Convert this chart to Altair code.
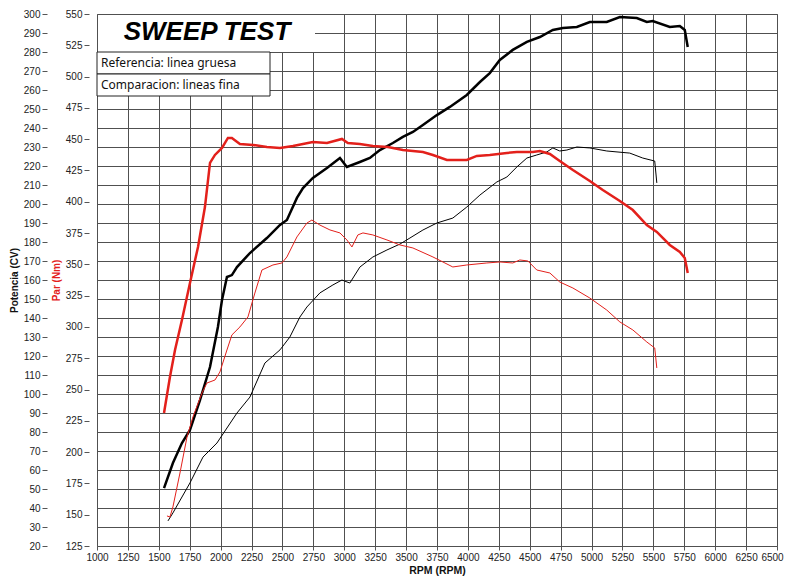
import altair as alt
import pandas as pd

# ---- data ----
rpm_ticks = list(range(1000, 6501, 250))
cv_ticks = list(range(20, 301, 10))
nm_ticks = list(range(125, 551, 25))

pow_ref_rpm = [1542, 1614, 1687, 1752, 1833, 1914, 1978, 2011, 2051, 2091,
               2132, 2237, 2374, 2480, 2536, 2617, 2666, 2746, 2860, 2965,
               3021, 3126, 3207, 3288, 3393, 3474, 3555, 3636, 3749, 3854,
               3991, 4097, 4177, 4258, 4363, 4477, 4582, 4687, 4768, 4881,
               4986, 5123, 5229, 5366, 5447, 5495, 5633, 5714, 5754, 5778]
pow_ref_cv = [50.5, 63.7, 74.2, 81.1, 96.8, 114.2, 135.3, 149.5, 161.6, 162.6,
              166.8, 174.2, 182.1, 189, 191.6, 203.2, 208.4, 213.7, 219, 224.2,
              219.5, 222.1, 224.2, 228.4, 232.1, 235.3, 237.9, 241.6, 246.8, 251.1,
              257.4, 264.2, 268.9, 275.8, 281.1, 285.3, 287.9, 291.6, 292.6, 293.2,
              295.8, 295.8, 298.4, 297.9, 295.8, 296.3, 293.2, 293.7, 291.6, 282.6]

tq_ref_rpm = [1542, 1590, 1631, 1687, 1752, 1817, 1873, 1914, 1954, 2011,
              2059, 2091, 2156, 2261, 2374, 2480, 2585, 2746, 2860, 2981,
              3029, 3126, 3231, 3353, 3474, 3636, 3717, 3830, 3991, 4072,
              4177, 4315, 4396, 4525, 4582, 4663, 4743, 4849, 4986, 5091,
              5229, 5334, 5447, 5528, 5633, 5714, 5754, 5778]
tq_ref_nm = [231.3, 260, 281.6, 305.6, 335.1, 363.9, 395.8, 431, 437.4, 443,
             451, 451, 446.2, 445.4, 443.8, 443, 444.6, 447.8, 447, 450.2,
             447, 446.2, 444.6, 443.8, 441.4, 439.8, 437.4, 433.4, 433.4, 436.6,
             437.4, 439, 439.8, 439.8, 440.6, 438.2, 432.6, 425.4, 416.6, 409.4,
             400.6, 393.4, 381.4, 375.9, 365.5, 359.9, 355.1, 343.1]

pow_cmp_rpm = [1574, 1614, 1752, 1857, 1970, 2051, 2132, 2237, 2358, 2480,
               2560, 2641, 2698, 2803, 2908, 2981, 3045, 3126, 3231, 3345,
               3450, 3531, 3636, 3749, 3878, 3991, 4097, 4234, 4315, 4396,
               4477, 4557, 4638, 4687, 4743, 4800, 4881, 4986, 5123, 5309,
               5414, 5511, 5528]
pow_cmp_cv = [33.2, 37.4, 53.2, 66.8, 74.2, 82.1, 90, 98.4, 116.3, 123.2,
              130, 140.5, 145.8, 153.2, 157.4, 160, 158.4, 166.8, 172.1, 175.8,
              178.9, 182.1, 186.3, 190, 192.6, 198.4, 204.7, 211.6, 214.2, 219.5,
              224.2, 225.8, 227.4, 229.5, 227.9, 228.4, 230, 229.5, 227.9, 226.8,
              224.2, 222.6, 211.1]

tq_cmp_rpm = [1566, 1590, 1614, 1671, 1728, 1776, 1849, 1889, 1954, 1994,
              2051, 2091, 2156, 2221, 2277, 2334, 2423, 2496, 2536, 2617,
              2698, 2738, 2803, 2884, 2965, 3021, 3062, 3110, 3151, 3231,
              3345, 3450, 3555, 3717, 3878, 3991, 4153, 4258, 4363, 4420,
              4485, 4557, 4663, 4743, 4849, 4986, 5123, 5229, 5334, 5447,
              5511, 5528]
tq_cmp_nm = [149, 148.2, 156.2, 183.3, 212.1, 228.1, 247.2, 255.2, 257.6, 264,
             281.6, 293.6, 300, 308, 327.1, 345.5, 349.5, 351.1, 355.9, 371.9,
             383, 385.4, 381.4, 377.5, 375.1, 369.5, 363.9, 373.5, 375.1, 373.5,
             369.5, 365.5, 363.1, 355.9, 347.9, 349.5, 351.1, 351.9, 351.1, 353.5,
             352.7, 345.5, 343.1, 335.9, 331.1, 323.1, 313.5, 304, 297.6, 288,
             283.2, 267.2]

title_text = "SWEEP TEST"
legend_lines = ["Referencia: linea gruesa", "Comparacion: lineas fina"]

RED = "#e3201b"
GRID = "#505050"
FONT = "Liberation Sans"

x_enc = alt.X("rpm:Q",
              scale=alt.Scale(domain=[1000, 6500], nice=False, zero=False),
              axis=alt.Axis(values=rpm_ticks, format="d", title="RPM (RPM)", grid=True,
                            gridColor=GRID, gridWidth=1, tickSize=4,
                            labelPadding=2, titlePadding=3, domain=False,
                            labelFlush=False, labelOverlap=False,
                            labelOffset={"condition": {"test": "datum.value >= 6500", "value": -5},
                                         "value": 0}))

pow_ref = pd.DataFrame({"rpm": pow_ref_rpm, "val": pow_ref_cv})
pow_cmp = pd.DataFrame({"rpm": pow_cmp_rpm, "val": pow_cmp_cv})
tq_ref = pd.DataFrame({"rpm": tq_ref_rpm, "val": tq_ref_nm})
tq_cmp = pd.DataFrame({"rpm": tq_cmp_rpm, "val": tq_cmp_nm})

cv_y = alt.Y("val:Q",
             scale=alt.Scale(domain=[20, 300], nice=False, zero=False),
             axis=alt.Axis(values=cv_ticks, format="d", title="Potencia (CV)", orient="left",
                           offset=50, grid=True, gridColor=GRID, gridWidth=1,
                           tickSize=5, labelPadding=2, domain=False,
                           titlePadding=4, labelFlush=False, labelOverlap=False,
                           titleColor="#111"))

nm_y = alt.Y("val:Q",
             scale=alt.Scale(domain=[125, 550], nice=False, zero=False),
             axis=alt.Axis(values=nm_ticks, format="d", title="Par (Nm)", orient="left",
                           offset=8, grid=False, tickSize=5, labelPadding=2,
                           domain=False, titlePadding=4, labelFlush=False,
                           labelOverlap=False, titleColor=RED))

one = pd.DataFrame({"k": [0]})

title_box = alt.Chart(one).mark_rect(fill="white").encode(
    x=alt.value(1), x2=alt.value(218), y=alt.value(1), y2=alt.value(38))
title_mark = alt.Chart(one).mark_text(
    text=title_text, font=FONT, fontSize=26, fontWeight="bold",
    fontStyle="italic", align="center", baseline="alphabetic", color="black"
).encode(x=alt.value(110), y=alt.value(26))
leg_box1 = alt.Chart(one).mark_rect(fill="white", stroke="#222", strokeWidth=1).encode(
    x=alt.value(0), x2=alt.value(173), y=alt.value(38), y2=alt.value(60))
leg_box2 = alt.Chart(one).mark_rect(fill="white", stroke="#222", strokeWidth=1).encode(
    x=alt.value(0), x2=alt.value(173), y=alt.value(60), y2=alt.value(82))
leg_t1 = alt.Chart(one).mark_text(
    text=legend_lines[0], font="Noto Sans", fontSize=12, align="left",
    baseline="middle", color="#111").encode(x=alt.value(4), y=alt.value(49))
leg_t2 = alt.Chart(one).mark_text(
    text=legend_lines[1], font="Noto Sans", fontSize=12, align="left",
    baseline="middle", color="#111").encode(x=alt.value(4), y=alt.value(71))

pow_ref_line = alt.Chart(pow_ref).mark_line(color="black", strokeWidth=2.5).encode(x=x_enc, y=cv_y)
pow_cmp_line = alt.Chart(pow_cmp).mark_line(color="black", strokeWidth=1).encode(x=x_enc, y=cv_y)
tq_ref_line = alt.Chart(tq_ref).mark_line(color=RED, strokeWidth=2.5).encode(x=x_enc, y=nm_y)
tq_cmp_line = alt.Chart(tq_cmp).mark_line(color=RED, strokeWidth=1).encode(x=x_enc, y=nm_y)

cv_group = alt.layer(pow_cmp_line, pow_ref_line, title_box, title_mark,
                     leg_box1, leg_box2, leg_t1, leg_t2)
nm_group = alt.layer(tq_cmp_line, tq_ref_line)

chart = alt.layer(cv_group, nm_group).resolve_scale(y="independent").properties(
    width=680, height=532,
    autosize="none",
    padding={"left": 89, "top": 6, "right": 7, "bottom": 30},
).configure_view(stroke="#666", strokeWidth=1).configure_axis(
    labelFont=FONT, labelFontSize=10, labelColor="#222",
    titleFont=FONT, titleFontSize=10, titleFontWeight="bold",
    tickColor="#555", tickWidth=1,
).configure_axisX(titleFontSize=10.5, titleColor="#111")

chart.save("out.html", embed_options={"renderer": "svg", "actions": False})
